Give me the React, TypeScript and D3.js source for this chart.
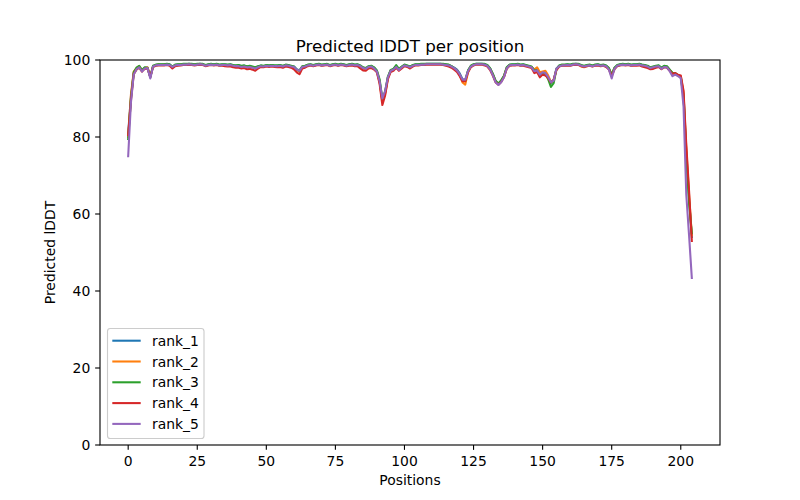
import React from "react";
import * as d3 from "d3";

const rank_1 = [
  81.0, 90.5, 96.5, 97.8, 98.3, 97.3, 98.0, 98.0, 95.5, 98.4,
  98.7, 98.8, 98.8, 98.8, 98.9, 98.8, 98.2, 98.7, 98.8, 98.8,
  98.9, 98.9, 99.0, 98.9, 98.8, 98.9, 99.0, 98.9, 98.6, 98.8,
  98.9, 98.8, 98.9, 98.7, 98.8, 98.8, 98.7, 98.8, 98.6, 98.5,
  98.6, 98.4, 98.5, 98.3, 98.4, 98.2, 98.0, 98.3, 98.5, 98.4,
  98.6, 98.5, 98.6, 98.5, 98.5, 98.6, 98.4, 98.7, 98.6, 98.4,
  98.3, 97.6, 97.3, 98.3, 98.4, 98.7, 98.8, 98.6, 98.8, 98.9,
  98.7, 98.8, 98.9, 98.6, 98.8, 98.9, 98.7, 98.9, 98.8, 98.6,
  98.8, 98.9, 98.7, 98.8, 98.5, 98.0, 97.8, 98.3, 98.4, 98.0,
  97.2, 94.5, 89.5, 91.5, 95.5, 97.3, 97.6, 98.4, 97.6, 98.2,
  98.7, 98.5, 98.2, 98.6, 98.8, 98.8, 98.9, 98.9, 99.0, 99.0,
  99.0, 99.0, 99.0, 99.0, 98.9, 98.8, 98.7, 98.4, 98.0, 97.5,
  96.5, 95.0, 94.8, 97.2, 98.4, 98.8, 99.0, 99.0, 99.0, 98.9,
  98.6, 97.8, 96.3, 94.5, 93.8, 94.6, 95.8, 98.0, 98.7, 98.8,
  98.8, 98.9, 98.7, 98.8, 98.6, 98.4, 98.2, 97.4, 97.6, 96.4,
  96.8, 96.9, 95.5, 94.0, 94.8, 97.8, 98.5, 98.7, 98.7, 98.8,
  98.7, 98.9, 99.0, 98.9, 98.6, 98.4, 98.6, 98.7, 98.5, 98.7,
  98.8, 98.6, 98.7, 98.5, 97.8, 96.0, 97.9, 98.6, 98.8, 98.9,
  98.8, 98.9, 98.7, 98.8, 98.8, 98.9, 98.7, 98.6, 98.4, 98.0,
  98.2, 98.4, 98.5, 97.9, 98.4, 98.3, 97.4, 96.6, 96.5, 96.0,
  95.6, 91.0, 76.0, 64.0, 54.0,
];

const rank_2 = [
  80.0, 91.0, 97.0, 97.9, 98.4, 97.2, 97.9, 98.1, 95.8, 98.3,
  98.6, 98.8, 98.7, 98.8, 98.8, 98.7, 98.1, 98.6, 98.7, 98.8,
  98.8, 98.9, 98.9, 98.8, 98.8, 98.8, 98.9, 98.8, 98.5, 98.7,
  98.8, 98.7, 98.8, 98.6, 98.7, 98.7, 98.6, 98.7, 98.5, 98.4,
  98.5, 98.3, 98.4, 98.2, 98.3, 98.1, 97.8, 98.2, 98.4, 98.3,
  98.5, 98.4, 98.5, 98.4, 98.4, 98.5, 98.3, 98.6, 98.5, 98.3,
  98.1, 97.4, 97.0, 98.2, 98.3, 98.6, 98.7, 98.5, 98.7, 98.8,
  98.6, 98.7, 98.8, 98.5, 98.7, 98.8, 98.6, 98.8, 98.7, 98.5,
  98.7, 98.8, 98.6, 98.7, 98.3, 97.8, 97.6, 98.2, 98.3, 97.9,
  97.0, 94.2, 89.2, 91.2, 95.3, 97.2, 97.5, 98.3, 97.5, 98.1,
  98.6, 98.4, 98.1, 98.5, 98.7, 98.7, 98.8, 98.8, 98.9, 98.9,
  98.9, 98.9, 98.9, 98.9, 98.8, 98.7, 98.6, 98.3, 97.8, 97.2,
  96.0, 94.2, 93.6, 96.8, 98.3, 98.7, 98.9, 98.9, 98.9, 98.8,
  98.5, 97.7, 96.2, 94.4, 93.7, 94.5, 95.7, 97.9, 98.6, 98.7,
  98.7, 98.8, 98.6, 98.7, 98.5, 98.3, 98.1, 97.6, 98.1, 96.8,
  97.0, 97.2, 96.0, 94.3, 94.5, 97.6, 98.4, 98.6, 98.6, 98.7,
  98.6, 98.8, 98.9, 98.8, 98.3, 98.1, 98.4, 98.6, 98.4, 98.6,
  98.7, 98.5, 98.6, 98.4, 97.7, 96.1, 97.8, 98.5, 98.7, 98.8,
  98.7, 98.8, 98.6, 98.7, 98.7, 98.8, 98.6, 98.5, 98.3, 97.9,
  98.1, 98.3, 98.4, 97.8, 98.3, 98.2, 97.3, 96.5, 96.4, 95.9,
  95.8, 91.5, 77.0, 65.0, 54.5,
];

const rank_3 = [
  79.5, 90.0, 96.8, 98.0, 98.5, 97.4, 98.1, 98.0, 95.6, 98.5,
  98.8, 98.9, 98.9, 98.9, 99.0, 98.9, 98.3, 98.8, 98.9, 98.9,
  99.0, 99.0, 99.0, 99.0, 98.9, 99.0, 99.0, 99.0, 98.7, 98.9,
  99.0, 98.9, 99.0, 98.8, 98.9, 98.9, 98.8, 98.9, 98.7, 98.6,
  98.7, 98.5, 98.6, 98.4, 98.5, 98.3, 98.1, 98.4, 98.6, 98.5,
  98.7, 98.6, 98.7, 98.6, 98.6, 98.7, 98.5, 98.8, 98.7, 98.5,
  98.3, 97.5, 97.2, 98.4, 98.5, 98.8, 98.9, 98.7, 98.9, 99.0,
  98.8, 98.9, 99.0, 98.7, 98.9, 99.0, 98.8, 99.0, 98.9, 98.7,
  98.9, 99.0, 98.8, 98.9, 98.6, 98.1, 97.9, 98.4, 98.5, 98.1,
  97.3, 95.0, 89.8, 91.8, 95.7, 97.4, 97.7, 98.7, 97.7, 98.3,
  98.8, 98.6, 98.3, 98.7, 98.9, 98.9, 99.0, 99.0, 99.0, 99.0,
  99.0, 99.0, 99.0, 99.0, 99.0, 98.9, 98.8, 98.4, 97.9, 97.3,
  96.2, 94.7, 94.6, 97.3, 98.5, 98.9, 99.0, 99.0, 99.0, 99.0,
  98.7, 97.9, 96.4, 94.6, 93.9, 94.7, 95.9, 98.1, 98.8, 98.9,
  98.9, 99.0, 98.8, 98.9, 98.7, 98.5, 98.3, 97.3, 97.2, 95.8,
  96.5, 96.4, 95.0, 93.0, 94.0, 97.6, 98.6, 98.8, 98.8, 98.9,
  98.8, 99.0, 99.0, 99.0, 98.7, 98.5, 98.7, 98.8, 98.6, 98.8,
  98.9, 98.7, 98.8, 98.6, 97.9, 96.2, 98.0, 98.7, 98.9, 99.0,
  98.9, 99.0, 98.8, 98.9, 98.9, 99.0, 98.8, 98.7, 98.5, 98.1,
  98.3, 98.5, 98.6, 98.0, 98.5, 98.4, 97.5, 96.7, 96.6, 96.1,
  95.5, 90.5, 75.0, 63.0, 55.0,
];

const rank_4 = [
  80.5, 89.5, 96.3, 97.5, 98.0, 97.0, 97.7, 97.8, 95.6, 98.2,
  98.5, 98.6, 98.6, 98.6, 98.7, 98.5, 97.8, 98.4, 98.5, 98.6,
  98.7, 98.7, 98.8, 98.7, 98.6, 98.7, 98.8, 98.7, 98.4, 98.6,
  98.7, 98.6, 98.7, 98.5, 98.5, 98.4, 98.3, 98.3, 98.1, 98.0,
  98.0, 97.8, 97.9, 97.6, 97.7, 97.5, 97.2, 97.8, 98.2, 98.1,
  98.3, 98.2, 98.3, 98.2, 98.1, 98.2, 98.0, 98.3, 98.2, 98.0,
  97.6, 96.8, 96.3, 97.8, 98.0, 98.4, 98.6, 98.4, 98.6, 98.7,
  98.5, 98.6, 98.7, 98.4, 98.6, 98.7, 98.5, 98.7, 98.6, 98.4,
  98.5, 98.6, 98.4, 98.4, 97.8, 97.3, 97.2, 97.8, 97.9, 97.5,
  96.8, 93.8, 88.3, 90.8, 95.0, 96.9, 97.2, 98.0, 97.2, 97.8,
  98.4, 98.2, 97.8, 98.3, 98.6, 98.6, 98.7, 98.7, 98.8, 98.8,
  98.8, 98.8, 98.8, 98.8, 98.7, 98.5, 98.3, 98.0, 97.5, 96.9,
  95.8, 94.5, 94.5, 96.8, 98.1, 98.6, 98.8, 98.8, 98.8, 98.6,
  98.3, 97.4, 95.9, 94.2, 93.6, 94.3, 95.5, 97.7, 98.5, 98.6,
  98.6, 98.7, 98.5, 98.5, 98.3, 98.1, 97.9, 96.6, 96.9, 95.5,
  96.2, 96.0, 95.3, 94.2, 94.9, 97.4, 98.3, 98.5, 98.5, 98.6,
  98.5, 98.7, 98.8, 98.7, 98.4, 98.2, 98.4, 98.5, 98.3, 98.5,
  98.6, 98.4, 98.5, 98.2, 97.5, 95.8, 97.6, 98.4, 98.6, 98.7,
  98.6, 98.7, 98.5, 98.6, 98.5, 98.6, 98.3, 98.1, 97.9, 97.6,
  97.7, 98.0, 98.2, 97.6, 98.1, 98.0, 97.2, 96.4, 96.6, 96.2,
  96.0, 92.0, 78.0, 66.0, 53.0,
];

const rank_5 = [
  75.0, 89.0, 96.2, 97.6, 98.1, 97.0, 97.8, 97.9, 95.2, 98.3,
  98.6, 98.7, 98.7, 98.7, 98.8, 98.7, 98.2, 98.6, 98.7, 98.7,
  98.8, 98.8, 98.9, 98.8, 98.7, 98.8, 98.9, 98.8, 98.5, 98.7,
  98.8, 98.7, 98.8, 98.6, 98.7, 98.7, 98.6, 98.7, 98.5, 98.4,
  98.4, 98.2, 98.3, 98.1, 98.2, 98.0, 97.8, 98.1, 98.4, 98.3,
  98.5, 98.4, 98.5, 98.4, 98.4, 98.5, 98.3, 98.6, 98.5, 98.3,
  98.2, 97.5, 97.2, 98.2, 98.3, 98.6, 98.7, 98.5, 98.7, 98.8,
  98.6, 98.7, 98.8, 98.5, 98.7, 98.8, 98.6, 98.8, 98.7, 98.5,
  98.7, 98.8, 98.6, 98.7, 98.4, 97.9, 97.7, 98.2, 98.3, 97.8,
  97.0, 94.5, 90.0, 92.0, 95.5, 97.2, 97.5, 98.2, 97.4, 98.1,
  98.6, 98.4, 98.1, 98.5, 98.7, 98.7, 98.8, 98.8, 98.9, 98.9,
  98.9, 98.9, 98.9, 98.9, 98.8, 98.7, 98.6, 98.3, 97.9, 97.3,
  96.3, 94.9, 94.9, 97.1, 98.3, 98.7, 98.9, 98.9, 98.9, 98.8,
  98.5, 97.6, 96.0, 94.2, 93.5, 94.2, 95.5, 97.8, 98.6, 98.7,
  98.7, 98.8, 98.6, 98.7, 98.5, 98.3, 98.1, 97.1, 97.3, 96.2,
  96.8, 96.6, 95.6, 94.3, 94.6, 97.7, 98.4, 98.6, 98.6, 98.7,
  98.6, 98.8, 98.9, 98.8, 98.5, 98.3, 98.5, 98.6, 98.4, 98.6,
  98.7, 98.5, 98.6, 98.4, 97.5, 95.2, 97.7, 98.5, 98.7, 98.8,
  98.7, 98.8, 98.6, 98.7, 98.7, 98.8, 98.6, 98.5, 98.3, 97.9,
  98.1, 98.3, 98.4, 97.7, 98.2, 98.1, 97.1, 95.8, 96.2, 95.8,
  95.3, 88.0, 65.0, 54.5, 43.4,
];

const seriesNames = ["rank_1", "rank_2", "rank_3", "rank_4", "rank_5"];
const seriesValues = [rank_1, rank_2, rank_3, rank_4, rank_5];
const colors = ["#1f77b4", "#ff7f0e", "#2ca02c", "#d62728", "#9467bd"];
const xTicks = [0, 25, 50, 75, 100, 125, 150, 175, 200];
const yTicks = [0, 20, 40, 60, 80, 100];

const W = 800;
const H = 500;
const L = 100, R = 720, T = 60, B = 445;
const FONT = "DejaVu Sans, sans-serif";

export default function App() {
  const n = rank_1.length;
  const pad = (n - 1) * 0.05;
  const x = d3.scaleLinear().domain([0 - pad, n - 1 + pad]).range([L, R]);
  const y = d3.scaleLinear().domain([0, 100]).range([B, T]);
  const line = d3
    .line<number>()
    .x((_, i) => x(i))
    .y((d) => y(d));

  const tickLen = 4.86;
  const legX = 107.5, legY = 328.5, legW = 96.5, legH = 110;
  const rowY0 = 340.7, rowStep = 20.8;

  return (
    <svg
      width={W}
      height={H}
      style={{ position: "absolute", left: 0, top: 0, background: "#fff" }}
      fontFamily={FONT}
    >
      <rect x={0} y={0} width={W} height={H} fill="#fff" />
      <defs>
        <clipPath id="clip">
          <rect x={L} y={T} width={R - L} height={B - T} />
        </clipPath>
      </defs>
      <g clipPath="url(#clip)">
        {seriesValues.map((vals, si) => (
          <path
            key={si}
            d={line(vals) || ""}
            fill="none"
            stroke={colors[si]}
            strokeWidth={2.08}
            strokeLinejoin="round"
            strokeLinecap="square"
          />
        ))}
      </g>
      {/* spines */}
      <rect x={L} y={T} width={R - L} height={B - T} fill="none" stroke="#000" strokeWidth={1.11} />
      {/* x ticks */}
      {xTicks.map((t) => (
        <g key={"x" + t}>
          <line x1={x(t)} x2={x(t)} y1={B} y2={B + tickLen} stroke="#000" strokeWidth={1.11} />
          <text x={x(t)} y={B + tickLen + 4.86 + 11} textAnchor="middle" fontSize={13.9} fill="#000">
            {t}
          </text>
        </g>
      ))}
      {yTicks.map((t) => (
        <g key={"y" + t}>
          <line x1={L - tickLen} x2={L} y1={y(t)} y2={y(t)} stroke="#000" strokeWidth={1.11} />
          <text
            x={L - tickLen - 4.86}
            y={y(t)}
            dy="0.36em"
            textAnchor="end"
            fontSize={13.9}
            fill="#000"
          >
            {t}
          </text>
        </g>
      ))}
      <text x={(L + R) / 2} y={52} textAnchor="middle" fontSize={16.7} fill="#000">
        Predicted lDDT per position
      </text>
      <text x={(L + R) / 2} y={485} textAnchor="middle" fontSize={13.9} fill="#000">
        Positions
      </text>
      <text
        transform={`translate(55, ${(T + B) / 2}) rotate(-90)`}
        textAnchor="middle"
        fontSize={13.9}
        fill="#000"
      >
        Predicted lDDT
      </text>
      {/* legend */}
      <rect
        x={legX}
        y={legY}
        width={legW}
        height={legH}
        rx={2.8}
        fill="#fff"
        fillOpacity={0.8}
        stroke="#cccccc"
        strokeWidth={1.11}
      />
      {seriesNames.map((name, i) => (
        <g key={name}>
          <line
            x1={112.3}
            x2={140.7}
            y1={rowY0 + i * rowStep}
            y2={rowY0 + i * rowStep}
            stroke={colors[i]}
            strokeWidth={2.08}
          />
          <text x={152} y={rowY0 + i * rowStep} dy="0.36em" fontSize={13.9} fill="#000">
            {name}
          </text>
        </g>
      ))}
    </svg>
  );
}
